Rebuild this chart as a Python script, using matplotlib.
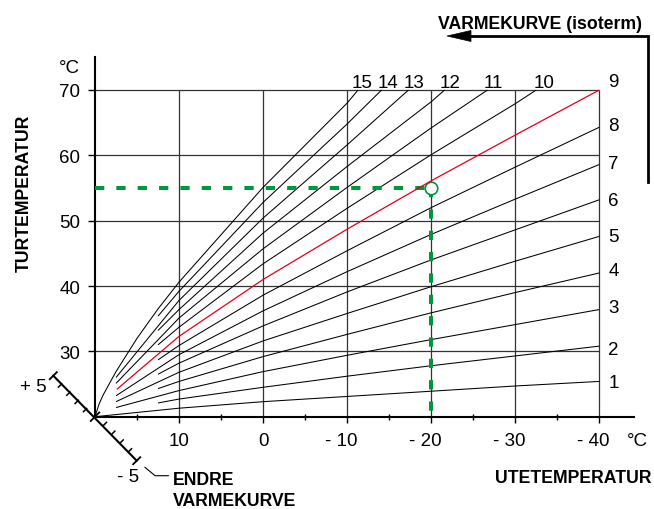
import matplotlib
matplotlib.use('Agg')
import matplotlib.pyplot as plt
import matplotlib.transforms as mtransforms
from matplotlib.lines import Line2D
from matplotlib.patches import Polygon
import numpy as np

plt.rcParams['font.family'] = ['Liberation Sans', 'DejaVu Sans']
BOLD_FAMILY = ['Liberation Sans', 'DejaVu Sans']

W, H, DPI = 654, 510, 100

# ---------------- data ----------------
x_ticks = [10, 0, -10, -20, -30, -40]
x_tick_labels = ['10', '0', '- 10', '- 20', '- 30', '- 40']
x_minor_ticks = [15, 5, -5, -15, -25, -35]
y_ticks = [30, 40, 50, 60, 70]
y_tick_labels = ['30', '40', '50', '60', '70']

curve_names = ['1', '2', '3', '4', '5', '6', '7', '8', '9',
               '10', '11', '12', '13', '14', '15']
c1_x = [20, 10, 0, -10, -20, -30, -40]
c1_y = [20, 21.3, 22.3, 23.1, 23.9, 24.7, 25.4]
c2_x = [12.5, 10, 0, -10, -20, -30, -40]
c2_y = [22.1, 22.7, 24.5, 26.2, 27.8, 29.3, 30.8]
c3_x = [17.5, 10, 0, -10, -20, -30, -40]
c3_y = [21.4, 24.0, 26.9, 29.4, 31.8, 34.1, 36.4]
c4_x = [12.5, 10, 0, -10, -20, -30, -40]
c4_y = [24.3, 25.4, 29.2, 32.6, 35.9, 39.0, 42.0]
c5_x = [17.5, 10, 0, -10, -20, -30, -40]
c5_y = [22.3, 26.8, 31.6, 35.8, 39.9, 43.8, 47.6]
c6_x = [12.5, 10, 0, -10, -20, -30, -40]
c6_y = [26.5, 28.2, 33.9, 39.1, 44.0, 48.6, 53.2]
c7_x = [17.5, 10, 0, -10, -20, -30, -40]
c7_y = [23.2, 29.5, 36.2, 42.2, 47.9, 53.3, 58.6]
c8_x = [12.5, 10, 0, -10, -20, -30, -40]
c8_y = [28.7, 30.9, 38.6, 45.4, 52.0, 58.2, 64.3]
c9_x = [17.4, 10, 0, -10, -20, -30, -40]
c9_y = [24.2, 32.3, 41.0, 48.7, 56.1, 63.1, 70.0]
c10_x = [12.5, 10, 0, -10, -20, -30, -32.5]
c10_y = [31.0, 33.7, 43.4, 51.9, 60.1, 67.9, 70.0]
c11_x = [17.5, 10, 0, -10, -20, -26.7]
c11_y = [25.1, 35.1, 45.7, 55.1, 64.2, 70.0]
c12_x = [12.5, 10, 0, -10, -20, -21.6]
c12_y = [33.2, 36.4, 48.1, 58.3, 68.2, 70.0]
c13_x = [17.5, 10, 0, -10, -17.3]
c13_y = [26.0, 37.8, 50.4, 61.6, 70.0]
c14_x = [12.5, 10, 0, -10, -14.1]
c14_y = [35.4, 39.2, 52.8, 64.8, 70.0]
c15_x = [20, 19.5, 19, 17.5, 15, 12.5, 10, 0, -10, -11.3]
c15_y = [20, 22.0, 23.4, 26.9, 32.0, 36.5, 40.6, 55.1, 68.0, 70.0]

curves_x = [c1_x, c2_x, c3_x, c4_x, c5_x, c6_x, c7_x, c8_x, c9_x,
            c10_x, c11_x, c12_x, c13_x, c14_x, c15_x]
curves_y = [c1_y, c2_y, c3_y, c4_y, c5_y, c6_y, c7_y, c8_y, c9_y,
            c10_y, c11_y, c12_y, c13_y, c14_y, c15_y]
highlight_curve = '9'

label_x = [-41.7] * 9 + [-33.4, -27.4, -22.3, -17.9, -14.9, -11.8]
label_y = [24.5, 29.6, 36.0, 41.7, 46.9, 52.4, 58.1, 63.9, 70.6,
           70.5, 70.5, 70.5, 70.5, 70.5, 70.5]

op_outdoor = -20
op_flow = 55
shift_labels = ['+ 5', '- 5']
shift_steps = 5

# ---------------- styles ----------------
BLACK = '#000000'
RED = '#e3001b'
GREEN = '#00963c'
GRID = '#333333'
NUM_FS = 13.5
BOLD_FS = 12.7

fig = plt.figure(figsize=(W / DPI, H / DPI), dpi=DPI)
ax = fig.add_axes([95 / W, (H - 417.7) / H, (634 - 95) / W, (417.7 - 58) / H])
ax.set_xlim(20, -44.13)
ax.set_ylim(20, 75.05)
ax.set_facecolor('none')

for s in ['top', 'right']:
    ax.spines[s].set_visible(False)
for s in ['left', 'bottom']:
    ax.spines[s].set_linewidth(1.5)
    ax.spines[s].set_color(BLACK)

# grid
ax.hlines(y_ticks, 20, x_ticks[-1], color=GRID, lw=0.9, zorder=1)
ax.vlines(x_ticks, 20, y_ticks[-1], color=GRID, lw=0.9, zorder=1)

# ticks
ax.set_xticks(x_ticks)
ax.set_xticks(x_minor_ticks, minor=True)
ax.tick_params(axis='x', which='major', direction='out', length=4.5, width=1.0,
               labelbottom=False)
ax.tick_params(axis='x', which='minor', direction='inout', length=4.5, width=1.0)
ax.set_yticks(y_ticks, labels=y_tick_labels)
ax.tick_params(axis='y', direction='out', length=5, width=1.0, pad=5.5,
               labelsize=NUM_FS)

# x tick labels (digits centred on tick)
for xv, lab in zip(x_ticks, x_tick_labels):
    dx = -5.7 if lab.startswith('-') else 0
    ax.annotate(lab, xy=(xv, 20), xycoords='data', xytext=(dx, -28.3),
                textcoords='offset pixels', ha='center', va='baseline',
                fontsize=NUM_FS, annotation_clip=False)
ax.annotate('°C', xy=(x_ticks[-1], 20), xycoords='data', xytext=(27.4, -28.3),
            textcoords='offset pixels', ha='left', va='baseline',
            fontsize=NUM_FS, annotation_clip=False)
ax.annotate('°C', xy=(20, 70), xycoords='data', xytext=(-15, 18.3),
            textcoords='offset pixels', ha='right', va='baseline',
            fontsize=NUM_FS, annotation_clip=False)

# curves
for name, xs, ys in zip(curve_names, curves_x, curves_y):
    if name == highlight_curve:
        ax.plot(xs, ys, color=RED, lw=0.9, zorder=5, solid_capstyle='butt')
    else:
        ax.plot(xs, ys, color=BLACK, lw=0.75, zorder=3, solid_capstyle='butt')

for name, lx, ly in zip(curve_names, label_x, label_y):
    ax.text(lx, ly, name, ha='center', va='baseline', fontsize=NUM_FS,
            clip_on=False)

# operating point
ax.plot([20, op_outdoor], [op_flow, op_flow], color=GREEN, lw=2.9,
        dashes=(2.3, 3.0), zorder=4)
ax.plot([op_outdoor, op_outdoor], [op_flow, 20], color=GREEN, lw=2.9,
        dashes=(2.3, 3.0), zorder=4)
ax.plot([op_outdoor], [op_flow], marker='o', ms=9, mfc='white', mec=GREEN,
        mew=1.2, zorder=4.5, linestyle='none')

# ---------------- decorations in pixel space ----------------
ID = mtransforms.IdentityTransform()


def P(x, y_img):
    return (x, H - y_img)


ox, oy = ax.transData.transform((20, 20))
up_step = np.array([-8.34, 8.2])
dn_step = np.array([8.34, -8.8])
n_ll = np.array([-1.0, -1.0]) / np.sqrt(2)
n_ur = -n_ll
o = np.array([ox, oy])

pu = o + shift_steps * up_step
pd = o + shift_steps * dn_step
fig.add_artist(Line2D([pu[0], pd[0]], [pu[1], pd[1]], transform=ID,
                      color=BLACK, lw=1.5))
for i in range(1, shift_steps):
    p = o + i * up_step
    q = p + 4.5 * n_ll
    fig.add_artist(Line2D([p[0], q[0]], [p[1], q[1]], transform=ID,
                          color=BLACK, lw=1.1))
    p = o + i * dn_step
    q = p + 4.5 * n_ur
    fig.add_artist(Line2D([p[0], q[0]], [p[1], q[1]], transform=ID,
                          color=BLACK, lw=1.1))
for p, L in [(pu, 5), (pd, 5), (o, 6)]:
    a = p - L * n_ll
    b = p + L * n_ll
    fig.add_artist(Line2D([a[0], b[0]], [a[1], b[1]], transform=ID,
                          color=BLACK, lw=1.3))

fig.text(*P(33, 392), shift_labels[0], transform=ID, ha='center',
         va='baseline', fontsize=NUM_FS)
fig.text(*P(128, 482), shift_labels[1], transform=ID, ha='center',
         va='baseline', fontsize=NUM_FS)

# leader line to "ENDRE VARMEKURVE"
lx_, ly_ = zip(P(145, 468.3), P(155, 476.7), P(168.3, 476.7))
fig.add_artist(Line2D(lx_, ly_, transform=ID, color=BLACK, lw=0.8))

fig.text(*P(173, 485), 'ENDRE', transform=ID, ha='left', va='baseline',
         fontsize=BOLD_FS, fontweight='bold', family=BOLD_FAMILY)
fig.text(*P(173, 506), 'VARMEKURVE', transform=ID, ha='left', va='baseline',
         fontsize=BOLD_FS, fontweight='bold', family=BOLD_FAMILY)
fig.text(*P(573, 483), 'UTETEMPERATUR', transform=ID, ha='center',
         va='baseline', fontsize=BOLD_FS, fontweight='bold', family=BOLD_FAMILY)
fig.text(*P(28.3, 193), 'TURTEMPERATUR', transform=ID, ha='center',
         va='baseline', rotation=90, rotation_mode='anchor',
         fontsize=BOLD_FS, fontweight='bold', family=BOLD_FAMILY)
fig.text(*P(540, 29.5), 'VARMEKURVE (isoterm)', transform=ID, ha='center',
         va='baseline', fontsize=BOLD_FS, fontweight='bold', family=BOLD_FAMILY)

# arrow
axx, ayy = zip(P(648, 183), P(648, 37), P(470, 37))
fig.add_artist(Line2D(axx, ayy, transform=ID, color=BLACK, lw=2.0,
                      solid_joinstyle='miter'))
fig.add_artist(Polygon([P(447, 37), P(471, 31.5), P(471, 42.5)], closed=True,
                       transform=ID, facecolor=BLACK, edgecolor=BLACK, lw=0.5))

fig.savefig('out.png', dpi=DPI)
